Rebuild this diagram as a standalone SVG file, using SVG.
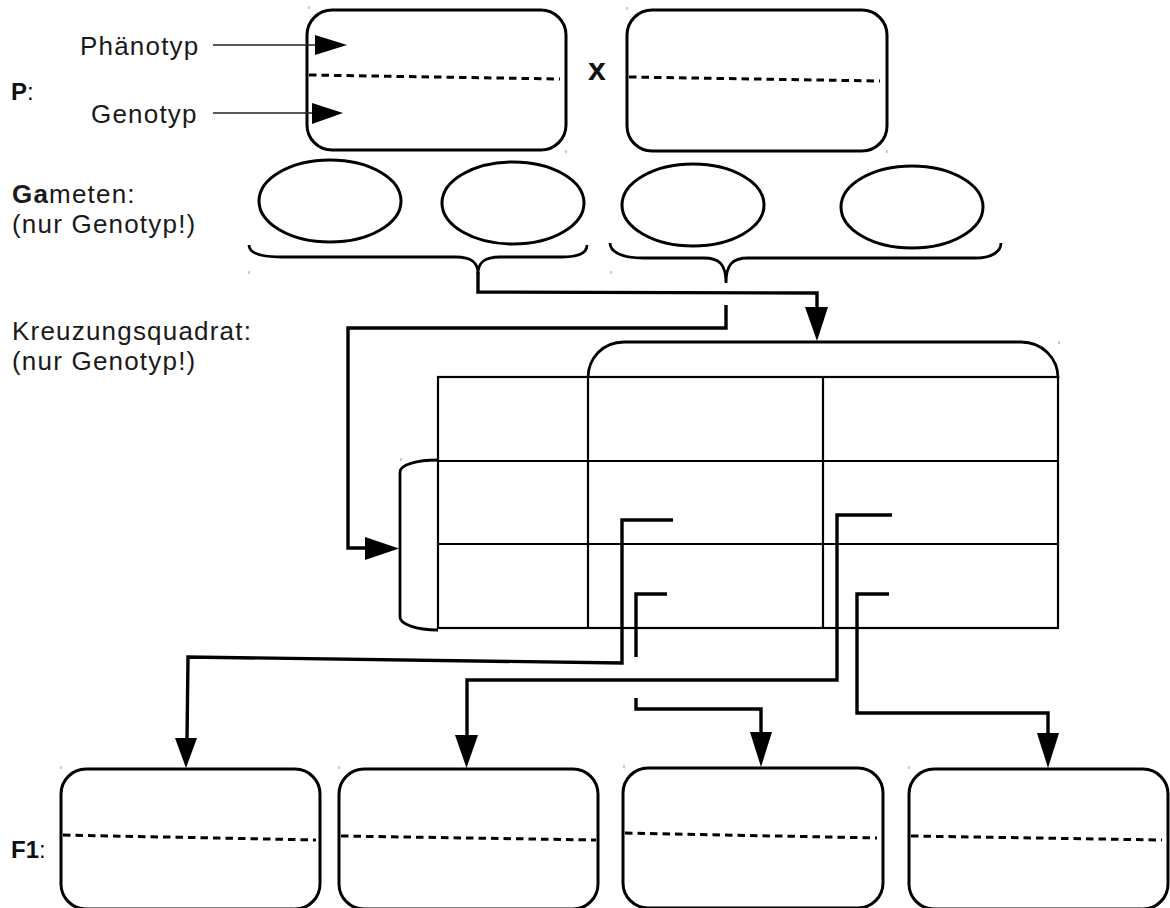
<svg xmlns="http://www.w3.org/2000/svg" width="1170" height="908" viewBox="0 0 1170 908">
  <style>
    .lbl { font-family: "Liberation Sans", Arial, sans-serif; font-size: 26px; letter-spacing: 1.2px; fill: #1a1a1a; }
    .tag { font-family: "Liberation Sans", Arial, sans-serif; font-size: 24px; fill: #111; }
    .b { font-weight: bold; }
    .box { fill: #fff; stroke: #000; stroke-width: 3; }
    .sep { fill: none; stroke: #000; stroke-width: 3; stroke-dasharray: 7.5 5; }
    .gam { fill: #fff; stroke: #000; stroke-width: 3; }
    .brace { fill: none; stroke: #000; stroke-width: 2.8; }
    .grid { fill: none; stroke: #000; stroke-width: 2.2; }
    .cap { fill: none; stroke: #000; stroke-width: 2.8; }
    .wire { fill: none; stroke: #000; stroke-width: 3.4; stroke-linejoin: miter; }
    .thin { fill: none; stroke: #222; stroke-width: 1.6; }
    .head { fill: #000; }
    .tick { stroke: #999; stroke-width: 1; }
  </style>

  <!-- row labels -->
  <g id="labels">
    <text class="tag" x="11" y="100"><tspan class="b">P</tspan>:</text>
    <text class="lbl" x="12" y="203"><tspan class="b">Ga</tspan>meten:</text>
    <text class="lbl" x="12" y="233">(nur Genotyp!)</text>
    <text class="lbl" x="12" y="340">Kreuzungsquadrat:</text>
    <text class="lbl" x="12" y="370">(nur Genotyp!)</text>
    <text class="tag" x="11" y="858"><tspan class="b">F1</tspan>:</text>
    <text class="tag b" x="588" y="80" style="font-size:32px">x</text>
  </g>

  <!-- parent generation -->
  <g id="parent-1">
    <rect class="box" x="307" y="10" width="259" height="140" rx="25"/>
    <line class="sep" x1="309" y1="75" x2="560" y2="79"/>
  </g>
  <g id="parent-2">
    <rect class="box" x="627" y="10" width="260" height="141" rx="25"/>
    <line class="sep" x1="629" y1="77" x2="880" y2="81"/>
  </g>

  <!-- legend arrows into parent-1 -->
  <g id="legend">
    <text class="lbl" x="80" y="55">Phänotyp</text>
    <text class="lbl" x="91" y="123">Genotyp</text>
    <line class="thin" x1="213" y1="45" x2="318" y2="45"/>
    <polygon class="head" points="315,35 347,45 315,55"/>
    <line class="thin" x1="213" y1="113" x2="314" y2="113"/>
    <polygon class="head" points="312,103 343,113 312,124"/>
  </g>

  <!-- gametes -->
  <g id="gamete-1"><ellipse class="gam" cx="330" cy="201" rx="71" ry="41"/></g>
  <g id="gamete-2"><ellipse class="gam" cx="513" cy="203" rx="71" ry="41"/></g>
  <g id="gamete-3"><ellipse class="gam" cx="693" cy="205" rx="71" ry="41"/></g>
  <g id="gamete-4"><ellipse class="gam" cx="912" cy="207" rx="71" ry="41"/></g>

  <g id="braces">
    <path class="brace" d="M249,245 C249,252 258,257 282,257 L456,257 C471,257 478,262 478,274 C478,262 485,257 500,257 L562,257 C580,257 587,252 587,245"/>
    <path class="brace" d="M610,243 C610,251 620,258 643,258 L704,258 C719,258 726,264 726,283 C726,264 733,258 748,258 L975,258 C993,258 1001,251 1001,243"/>
  </g>

  <!-- Punnett square -->
  <g id="punnett">
    <path class="cap" d="M588,378 C588,358 603,342 624,342 L1021,342 C1042,342 1058,358 1058,378"/>
    <path class="cap" d="M438,460 C416,460 400,465 400,472 L400,617 C400,624 416,630 438,630"/>
    <rect class="grid" x="438" y="377" width="620" height="251"/>
    <line class="grid" x1="588" y1="377" x2="588" y2="628"/>
    <line class="grid" x1="823" y1="377" x2="823" y2="628"/>
    <line class="grid" x1="438" y1="461" x2="1058" y2="461"/>
    <line class="grid" x1="438" y1="544" x2="1058" y2="544"/>
  </g>

  <!-- offspring -->
  <g id="child-1">
    <rect class="box" x="61" y="769" width="259" height="140" rx="25"/>
    <line class="sep" x1="63" y1="835" x2="316" y2="840"/>
  </g>
  <g id="child-2">
    <rect class="box" x="339" y="769" width="259" height="140" rx="25"/>
    <line class="sep" x1="341" y1="836" x2="596" y2="840"/>
  </g>
  <g id="child-3">
    <rect class="box" x="623" y="768" width="260" height="140" rx="25"/>
    <line class="sep" x1="625" y1="833" x2="877" y2="838"/>
  </g>
  <g id="child-4">
    <rect class="box" x="909" y="769" width="259" height="140" rx="25"/>
    <line class="sep" x1="911" y1="836" x2="1162" y2="840"/>
  </g>

  <!-- connectors -->
  <g id="connectors">
    <path class="wire" d="M478,272 L478,292 L817,293 L817,309"/>
    <polygon class="head" points="805,307 828,307 817,341"/>

    <path class="wire" d="M726,305 L726,328 L348,328 L348,548 L367,548"/>
    <polygon class="head" points="365,537 399,548.5 365,560"/>

    <path class="wire" d="M673,520 L622,520 L622,663 L188,657 L187,740"/>
    <polygon class="head" points="175,738 197,738 186,768"/>

    <path class="wire" d="M667,594 L636,594 L636,657"/>
    <path class="wire" d="M636,698 L636,709 L761,709 L761,734"/>
    <polygon class="head" points="750,732 772,732 761,767"/>

    <path class="wire" d="M892,515 L837,515 L837,680 L467,680 L467,737"/>
    <polygon class="head" points="455,735 478,735 466.5,768"/>

    <path class="wire" d="M889,594 L857,594 L857,713 L1048,713 L1048,735"/>
    <polygon class="head" points="1037,733 1059,733 1048,768"/>
  </g>

  <!-- small corner marks -->
  <g id="marks">
    <line class="tick" x1="309" y1="6" x2="309" y2="9"/>
    <line class="tick" x1="566" y1="150" x2="566" y2="153"/>
    <line class="tick" x1="627" y1="7" x2="627" y2="10"/>
    <line class="tick" x1="887" y1="150" x2="887" y2="153"/>
    <line class="tick" x1="249" y1="271" x2="249" y2="274"/>
    <line class="tick" x1="611" y1="271" x2="611" y2="274"/>
    <line class="tick" x1="401" y1="458" x2="401" y2="461"/>
    <line class="tick" x1="1059" y1="341" x2="1059" y2="344"/>
    <line class="tick" x1="61" y1="766" x2="61" y2="769"/>
    <line class="tick" x1="339" y1="766" x2="339" y2="769"/>
    <line class="tick" x1="624" y1="765" x2="624" y2="768"/>
    <line class="tick" x1="909" y1="766" x2="909" y2="769"/>
  </g>
</svg>
